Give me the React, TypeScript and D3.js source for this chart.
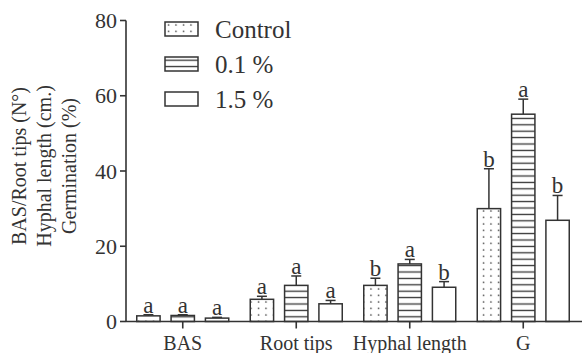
import React from "react";
import * as d3 from "d3";

const categories = ["BAS", "Root tips", "Hyphal length", "G"];
const seriesNames = ["Control", "0.1 %", "1.5 %"];
const controlValues = [1.5, 5.9, 9.6, 30.0];
const lowValues = [1.6, 9.6, 15.3, 55.1];
const highValues = [0.9, 4.7, 9.1, 26.9];
const controlErrors = [0.3, 0.8, 1.9, 10.6];
const lowErrors = [0.2, 2.5, 1.2, 4.0];
const highErrors = [0.2, 0.9, 1.5, 6.6];
const controlLetters = ["a", "a", "b", "b"];
const lowLetters = ["a", "a", "a", "a"];
const highLetters = ["a", "a", "b", "b"];
const yTicks = [0, 20, 40, 60, 80];

const W = 582,
  H = 353;
const ink = "#333";
const font = "Liberation Serif, Times New Roman, serif";

const series = [
  { name: seriesNames[0], values: controlValues, errors: controlErrors, letters: controlLetters, fill: "url(#dots)" },
  { name: seriesNames[1], values: lowValues, errors: lowErrors, letters: lowLetters, fill: "url(#stripes)" },
  { name: seriesNames[2], values: highValues, errors: highErrors, letters: highLetters, fill: "#fff" },
];

export default function App() {
  const y = d3.scaleLinear().domain([0, 80]).range([321.5, 20.5]);
  const x = d3.scaleBand().domain(categories).range([126, 580]);
  const inner = d3
    .scaleBand()
    .domain(seriesNames)
    .range([-46, 46])
    .paddingInner(0.32);
  const bw = inner.bandwidth();

  return (
    <svg
      width={W}
      height={H}
      style={{ position: "absolute", left: 0, top: 0, background: "#fff", fontFamily: font }}
    >
      <defs>
        <pattern id="dots" width={7.5} height={6.5} patternUnits="userSpaceOnUse">
          <rect width={7.5} height={6.5} fill="#fff" />
          <circle cx={3.5} cy={3} r={0.8} fill="#444" />
        </pattern>
        <pattern id="stripes" width={6} height={6.4} patternUnits="userSpaceOnUse">
          <rect width={6} height={6.4} fill="#fff" />
          <line x1={0} x2={6} y1={3.2} y2={3.2} stroke={ink} strokeWidth={1.3} />
        </pattern>
      </defs>

      {/* y axis */}
      <line x1={126} x2={126} y1={y(80)} y2={y(0)} stroke={ink} strokeWidth={1.6} />
      {yTicks.map((t) => (
        <g key={t}>
          <line x1={120} x2={126} y1={y(t)} y2={y(t)} stroke={ink} strokeWidth={1.6} />
          <text x={117} y={y(t)} dy="0.35em" textAnchor="end" fontSize={22} fill={ink}>
            {t}
          </text>
        </g>
      ))}

      {/* y label */}
      <g transform="translate(0,166) rotate(-90)" fontSize={20} fill={ink} textAnchor="middle">
        <text x={0} y={26}>BAS/Root tips (N°)</text>
        <text x={0} y={51}>Hyphal length (cm.)</text>
        <text x={0} y={76}>Germination (%)</text>
      </g>

      {/* bars */}
      {categories.map((c, i) => {
        const cx = x(c)! + x.bandwidth() / 2;
        return (
          <g key={c}>
            {series.map((s) => {
              const bx = cx + inner(s.name)!;
              const top = y(s.values[i]);
              const errTop = y(s.values[i] + s.errors[i]);
              const mid = bx + bw / 2;
              return (
                <g key={s.name}>
                  <line x1={mid} x2={mid} y1={top} y2={errTop} stroke={ink} strokeWidth={1.5} />
                  <line x1={mid - 5} x2={mid + 5} y1={errTop} y2={errTop} stroke={ink} strokeWidth={1.5} />
                  <rect
                    x={bx}
                    y={top}
                    width={bw}
                    height={y(0) - top}
                    fill={s.fill}
                    stroke={ink}
                    strokeWidth={1.5}
                  />
                  <text x={mid} y={errTop - 2} textAnchor="middle" fontSize={23} fill={ink}>
                    {s.letters[i]}
                  </text>
                </g>
              );
            })}
            <line x1={cx} x2={cx} y1={y(0)} y2={y(0) + 7} stroke={ink} strokeWidth={1.6} />
            <text x={cx} y={350} textAnchor="middle" fontSize={20} fill={ink}>
              {c}
            </text>
          </g>
        );
      })}

      {/* x axis */}
      <line x1={126} x2={582} y1={y(0)} y2={y(0)} stroke={ink} strokeWidth={1.6} />

      {/* legend */}
      {series.map((s, i) => (
        <g key={s.name} transform={`translate(165,${22 + i * 35})`}>
          <rect x={0} y={0} width={33} height={14} fill={s.fill} stroke={ink} strokeWidth={1.5} />
          <text x={50} y={7} dy="0.35em" fontSize={25} fill={ink}>
            {s.name}
          </text>
        </g>
      ))}
    </svg>
  );
}
